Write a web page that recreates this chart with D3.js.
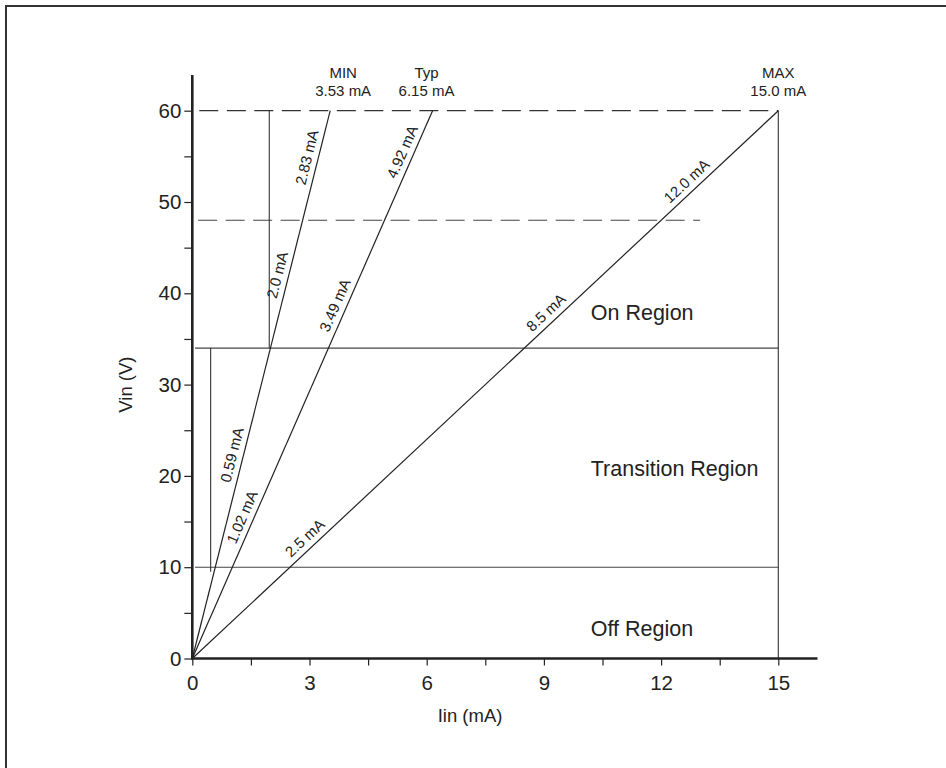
<!DOCTYPE html>
<html>
<head>
<meta charset="utf-8">
<script src="https://cdn.jsdelivr.net/npm/d3@7"></script>
<style>
  html, body { margin: 0; padding: 0; background: #fff; }
  svg { display: block; font-family: "Liberation Sans", Arial, Helvetica, sans-serif; }
</style>
</head>
<body>
<svg id="chart" width="946" height="768"></svg>
<script>
// Input current vs. input voltage for the three device corners
const seriesNames = ["MIN", "Typ", "MAX"];
const currentAt60V = [3.53, 6.15, 15.0];          // mA at Vin = 60 V
const topLabels = ["3.53 mA", "6.15 mA", "15.0 mA"];
const thresholdVolts = [10, 34, 48];               // region / marker voltages
const crossingLabels = [
  ["0.59 mA", "2.0 mA", "2.83 mA"],
  ["1.02 mA", "3.49 mA", "4.92 mA"],
  ["2.5 mA", "8.5 mA", "12.0 mA"]
];
const xTickValues = [0, 3, 6, 9, 12, 15];
const yTickValues = [0, 10, 20, 30, 40, 50, 60];
const regionNames = ["Off Region", "Transition Region", "On Region"];
const regionVolts = [2.5, 20, 37.1];

// layout helpers (not data)
const labelVinAlong = [[22.0, 41.7, 54.6], [15.0, 38.2, 55.0], [12.3, 37.0, 51.4]];
const topLabelDx = [13, -6, 0];

const svg = d3.select("#chart");

// outer frame (right and bottom edges fall off the page)
svg.append("rect")
  .attr("x", 6).attr("y", 6).attr("width", 980).attr("height", 800)
  .attr("fill", "none").attr("stroke", "#333").attr("stroke-width", 2);

const x = d3.scaleLinear().domain([0, 15]).range([192.3, 778.3]);
const y = d3.scaleLinear().domain([0, 60]).range([658.5, 110.7]);

const ink = "#222";
const g = svg.append("g");

// horizontal guide lines
const vTop = 60;
g.append("line")
  .attr("x1", x(0.18)).attr("x2", x(15))
  .attr("y1", y(vTop)).attr("y2", y(vTop))
  .attr("stroke", "#333").attr("stroke-width", 1.2)
  .attr("stroke-dasharray", "19,8.5");
g.append("line")
  .attr("x1", x(0.15)).attr("x2", x(13))
  .attr("y1", y(thresholdVolts[2])).attr("y2", y(thresholdVolts[2]))
  .attr("stroke", "#444").attr("stroke-width", 1.2)
  .attr("stroke-dasharray", "19,8.5");
[thresholdVolts[0], thresholdVolts[1]].forEach(v => {
  g.append("line")
    .attr("x1", x(0.07)).attr("x2", x(15))
    .attr("y1", y(v)).attr("y2", y(v))
    .attr("stroke", "#444").attr("stroke-width", 1.1);
});

// vertical markers
const verticals = [
  { i: 15, v0: 0, v1: 60 },
  { i: 1.97, v0: 34, v1: 60 },
  { i: 0.47, v0: 9.5, v1: 34 }
];
verticals.forEach(d => {
  g.append("line")
    .attr("x1", x(d.i)).attr("x2", x(d.i))
    .attr("y1", y(d.v0)).attr("y2", y(d.v1))
    .attr("stroke", "#333").attr("stroke-width", 1.1);
});

// load lines from origin to 60 V
currentAt60V.forEach((imax, s) => {
  g.append("line")
    .attr("x1", x(0)).attr("y1", y(0))
    .attr("x2", x(imax)).attr("y2", y(60))
    .attr("stroke", ink).attr("stroke-width", 1.2);

  const ang = Math.atan2(y(0) - y(60), x(imax) - x(0)) * 180 / Math.PI;
  crossingLabels[s].forEach((txt, k) => {
    const v = labelVinAlong[s][k];
    const px = x(imax * v / 60), py = y(v);
    g.append("text")
      .attr("transform", `translate(${px},${py}) rotate(${-ang})`)
      .attr("y", -6)
      .attr("text-anchor", "middle")
      .attr("font-size", 15)
      .attr("fill", ink)
      .text(txt);
  });

  const tx = x(imax) + topLabelDx[s];
  g.append("text")
    .attr("x", tx).attr("y", 78)
    .attr("text-anchor", "middle").attr("font-size", 15).attr("fill", ink)
    .text(seriesNames[s]);
  g.append("text")
    .attr("x", tx).attr("y", 96)
    .attr("text-anchor", "middle").attr("font-size", 15).attr("fill", ink)
    .text(topLabels[s]);
});

// region names
regionNames.forEach((name, k) => {
  g.append("text")
    .attr("x", x(10.2)).attr("y", y(regionVolts[k]))
    .attr("font-size", 21.5).attr("fill", ink)
    .text(name);
});

// axes
const xMinor = d3.range(0, 15.01, 1.5);
const yMinor = d3.range(0, 60.01, 5);

const xAxis = d3.axisBottom(x)
  .tickValues(xMinor)
  .tickSize(7).tickPadding(9.5)
  .tickFormat(d => xTickValues.includes(Math.round(d * 10) / 10) ? d3.format("d")(d) : "");
const yAxis = d3.axisLeft(y)
  .tickValues(yMinor)
  .tickSize(8).tickPadding(3)
  .tickFormat(d => yTickValues.includes(d) ? d3.format("d")(d) : "");

const gx = svg.append("g").attr("transform", `translate(0,${y(0)})`).call(xAxis);
const gy = svg.append("g").attr("transform", `translate(${x(0)},0)`).call(yAxis);
[gx, gy].forEach(a => {
  a.select(".domain").remove();
  a.selectAll(".tick line").attr("stroke", ink).attr("stroke-width", 1.2);
  a.selectAll(".tick text").attr("font-size", 20.5).attr("fill", ink)
    .attr("font-family", "'Liberation Sans', Arial, sans-serif");
});

// heavy axis lines, extended past the data range
svg.append("line")
  .attr("x1", x(0) - 1).attr("x2", 817.5)
  .attr("y1", y(0)).attr("y2", y(0))
  .attr("stroke", ink).attr("stroke-width", 2.6);
svg.append("line")
  .attr("x1", x(0)).attr("x2", x(0))
  .attr("y1", 75).attr("y2", y(0) + 1)
  .attr("stroke", ink).attr("stroke-width", 2.6);

// axis titles
svg.append("text")
  .attr("x", 470).attr("y", 722)
  .attr("text-anchor", "middle").attr("font-size", 18.5).attr("fill", ink)
  .text("Iin (mA)");
svg.append("text")
  .attr("transform", `translate(132,${(y(0) + y(60)) / 2}) rotate(-90)`)
  .attr("text-anchor", "middle").attr("font-size", 18.5).attr("fill", ink)
  .text("Vin (V)");
</script>
</body>
</html>
